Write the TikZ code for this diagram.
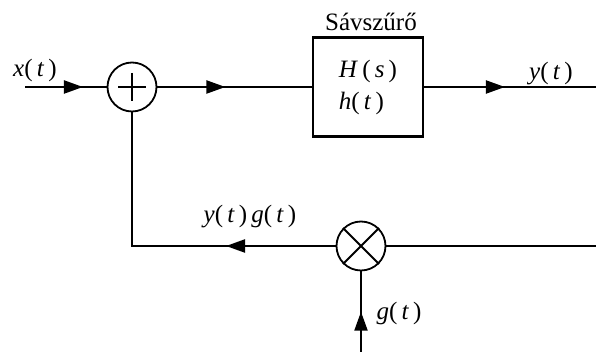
\documentclass[tikz,border=0pt]{standalone}
\usepackage{fontspec}
\setmainfont{Liberation Serif}
\usetikzlibrary{arrows.meta,decorations.markings}

\begin{document}
\begin{tikzpicture}[x=0.5pt,y=-0.5pt,line width=1.1pt,
    font=\fontsize{12.5}{16}\selectfont,
    circ/.style={circle,draw,line width=0.9pt,minimum size=24.5pt,inner sep=0pt},
    block/.style={draw,line width=1.1pt,minimum width=55pt,minimum height=49.5pt,align=left,inner sep=0pt},
    midarrow/.style={postaction={decorate},decoration={markings,
        mark=at position #1 with {\arrow{Triangle[length=9.5pt,width=6.5pt]}}}}]
    \useasboundingbox (0,0) rectangle (596,352);
    % blocks
    \node[circ] (sum) at (132,87) {};
    \node[block] (filt) at (368,87) {\textit{H}\,(\,\textit{s}\,)\\\textit{h}(\,\textit{t}\,)};
    \node[circ] (mult) at (361,246) {};
    \node (title) at (371,22) {Sávszűrő};
    % plus and times signs
    \draw[line width=0.9pt] (sum.center) ++(-14,0) -- ++(28,0)
        (sum.center) ++(0,-14) -- ++(0,28);
    \draw[line width=0.9pt] (mult.north west) -- (mult.south east)
        (mult.north east) -- (mult.south west);
    % free ends
    \coordinate (xin) at (25,87);
    \coordinate (yout) at (596,87);
    \coordinate (corner) at (132,246);
    \coordinate (yfb) at (596,246);
    \coordinate (gsrc) at (361,352);
    % signal paths
    \draw[midarrow=0.71] (xin) -- (sum.west);
    \draw[midarrow=0.44] (sum.east) -- (filt.west);
    \draw[midarrow=0.47] (filt.east) -- (yout);
    \draw[midarrow=0.325] (mult.west) -- (corner) -- (sum.south);
    \draw (yfb) -- (mult.east);
    \draw[midarrow=0.5] (gsrc) -- (mult.south);
    % labels
    \node (xlab) at (35,70) {\textit{x}(\,\textit{t}\,)};
    \node (ylab) at (551,74) {\textit{y}(\,\textit{t}\,)};
    \node (fblab) at (250,217) {\textit{y}(\,\textit{t}\,)\,\textit{g}(\,\textit{t}\,)};
    \node (glab) at (399,313) {\textit{g}(\,\textit{t}\,)};
\end{tikzpicture}
\end{document}
